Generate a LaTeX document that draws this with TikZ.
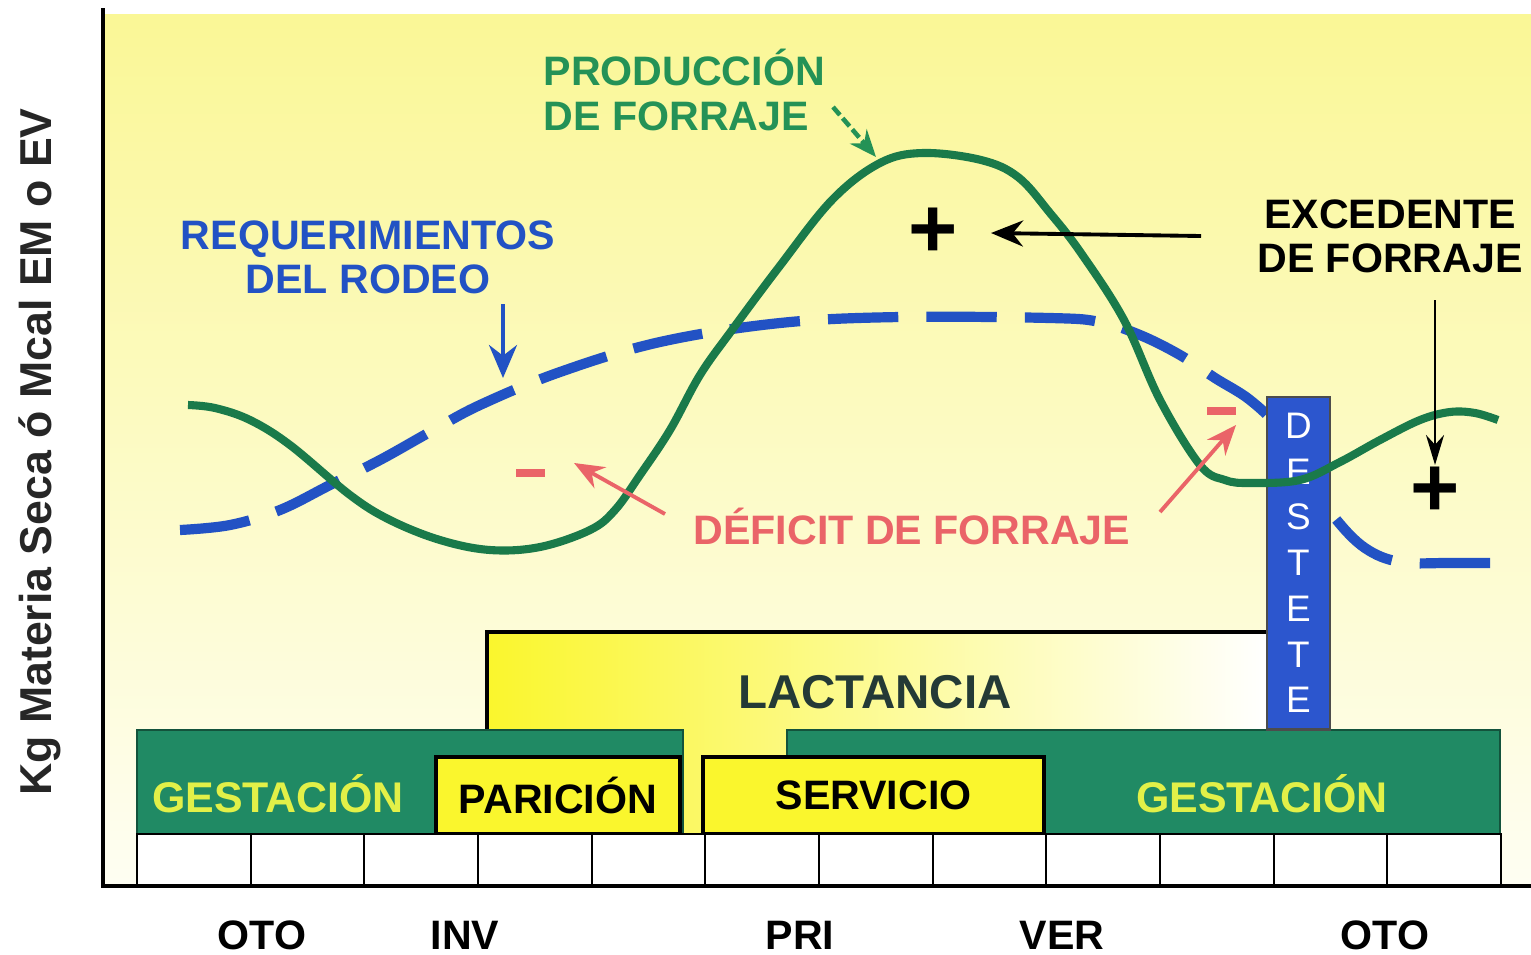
\documentclass[tikz,border=0pt]{standalone}
\usepackage{fontspec}
\setmainfont{Liberation Sans}
\usetikzlibrary{positioning,arrows.meta}

\definecolor{fondo}{RGB}{250,247,150}
\definecolor{verdecurva}{RGB}{26,122,74}
\definecolor{verdebarra}{RGB}{32,138,100}
\definecolor{verdetexto}{RGB}{36,146,86}
\definecolor{azulreq}{RGB}{34,82,196}
\definecolor{azuldestete}{RGB}{44,86,206}
\definecolor{amarillo}{RGB}{250,246,45}
\definecolor{rojodef}{RGB}{234,100,104}
\definecolor{amtexto}{RGB}{226,240,72}
\definecolor{lacttexto}{RGB}{36,58,54}

\begin{document}
\begin{tikzpicture}[x=0.01cm,y=-0.01cm,
    lbl/.style={font=\fontsize{11.7}{12.6}\selectfont\bfseries,inner sep=0pt,align=center},
    bigtxt/.style={font=\fontsize{13.5}{14}\selectfont\bfseries,inner sep=0pt},
    bar/.style={fill=verdebarra,draw=verdebarra!60!black,line width=0.6pt},
    box/.style={draw,line width=1.1pt,fill=amarillo,inner sep=0pt,font=\fontsize{11.7}{12}\selectfont\bfseries},
    cell/.style={draw,line width=0.6pt,fill=white,minimum width=1.136cm,minimum height=0.52cm,inner sep=0pt,outer sep=0pt},
    plus/.style={font=\fontsize{24}{24}\selectfont\bfseries,inner sep=0pt},
    minus/.style={fill=rojodef,minimum width=0.29cm,minimum height=0.08cm,inner sep=0pt},
    arr/.style={-{Stealth[length=0.32cm,width=0.26cm]}}
  ]
\useasboundingbox (0,0) rectangle (1531,954);

% fondo del grafico
\shade[top color=fondo,bottom color=fondo!12] (103,14) rectangle (1531,886);

% lactancia
\shade[left color=amarillo,right color=white] (487,632) rectangle (1268,834);
\draw[line width=1.1pt] (487,730) |- (1268,632);
\node (lact) [bigtxt,text=lacttexto] at (875,692) {LACTANCIA};

% gestacion, paricion, servicio
\draw[bar] (137,730) rectangle (683,834);
\draw[bar] (787,730) rectangle (1500,834);
\node (gestA) [lbl,text=amtexto,font=\fontsize{12.2}{13}\selectfont\bfseries] at (278,794) {GESTACIÓN};
\node (gestB) [lbl,text=amtexto,font=\fontsize{12.2}{13}\selectfont\bfseries] at (1262,794) {GESTACIÓN};
\node (paricion) [box,minimum width=2.44cm,minimum height=0.77cm] at (558,795.5) {PARICIÓN};
\node (servicio) [box,minimum width=3.41cm,minimum height=0.77cm] at (873.5,795.5) {SERVICIO};

% fila de meses
\node (c0) [cell,anchor=west] at (137,860) {};
\foreach \i [count=\j from 1] in {0,...,10}
  \node (c\j) [cell,right=0pt of c\i] {};

% requerimientos del rodeo
\draw[azulreq,line width=2.9pt,dash pattern=on 20pt off 8pt]
  plot[smooth,tension=0.6] coordinates {(180,530) (230,525) (280,510) (330,485) (380,460) (430,432)
  (480,405) (560,372) (660,342) (780,323) (900,317) (1050,318) (1100,322) (1140,335) (1180,355)
  (1215,378) (1250,400) (1280,430) (1310,480) (1335,518) (1365,548) (1400,562) (1450,563) (1513,563)};

% destete
\node (destete) [fill=azuldestete,draw=black!70,line width=0.8pt,minimum width=0.63cm,minimum height=3.32cm,
  text=white,align=center,inner sep=0pt,font=\fontsize{10.5}{13}\selectfont] at (1298.5,563) {D\\E\\S\\T\\E\\T\\E};

% produccion de forraje
\draw[verdecurva,line width=2.3pt]
  plot[smooth,tension=0.6] coordinates {(188,405) (215,408) (250,420) (290,445) (350,495) (390,520)
  (440,540) (490,550) (540,547) (590,530) (615,510) (640,475) (670,430) (700,375) (732,330)
  (779,267) (832,200) (880,163) (923,153) (981,160) (1018,177) (1050,213) (1081,253)
  (1124,320) (1160,400) (1200,465) (1225,480) (1250,483) (1300,480)
  (1340,462) (1380,440) (1420,420) (1450,412) (1475,413) (1498,420)};

% textos
\node (prod) [lbl,text=verdetexto,align=left,anchor=west] at (543,90) {PRODUCCIÓN\\DE FORRAJE};
\node (req) [lbl,text=azulreq] at (368,257) {REQUERIMIENTOS\\DEL RODEO};
\node (exc) [lbl] at (1390,236) {EXCEDENTE\\DE FORRAJE};
\node (def) [lbl,text=rojodef] at (912,526) {DÉFICIT DE FORRAJE};
\node (masA) [plus] at (933,233) {+};
\node (masB) [plus] at (1435,492) {+};
\node (menosA) [minus] at (530,473) {};
\node (menosB) [minus] at (1221,411) {};

% flechas
\coordinate (prodA) at (833,107);
\coordinate (prodB) at (876,157);
\coordinate (reqA) at (503,304);
\coordinate (reqB) at (503,378);
\coordinate (excA) at (1201,236);
\coordinate (excB) at (1435,300);
\coordinate (defA) at (665,514);
\coordinate (defB) at (1160,512);
\draw[arr,verdetexto,line width=1.3pt,dash pattern=on 3pt off 1.2pt,-{Stealth[length=0.27cm,width=0.22cm]}] (prodA) -- (prodB);
\draw[arr,azulreq,line width=1.1pt,-{Stealth[length=0.33cm,width=0.28cm]}] (reqA) -- (reqB);
\draw[arr,line width=1.1pt] (excA) -- ([xshift=0.58cm]masA.center);
\draw[arr,line width=0.7pt,-{Stealth[length=0.3cm,width=0.18cm]}] (excB) -- ([yshift=0.27cm]masB.center);
\draw[arr,rojodef,line width=1.1pt,-{Stealth[length=0.3cm,width=0.24cm]}] (defA) -- ([xshift=0.44cm,yshift=0.1cm]menosA.center);
\draw[arr,rojodef,line width=1.1pt,-{Stealth[length=0.3cm,width=0.24cm]}] (defB) -- ([xshift=0.15cm,yshift=-0.14cm]menosB.center);

% ejes y rotulos
\draw[line width=1.4pt] (103,8) -- (103,886) -- (1531,886);
\node (ylab) [rotate=90,font=\fontsize{12.7}{13}\selectfont\bfseries,text=black!85] at (40,452) {Kg Materia Seca ó Mcal EM o EV};
\node (oto1) [lbl] at (262,935) {OTO};
\node (inv) [lbl] at (465,935) {INV};
\node (pri) [lbl] at (800,935) {PRI};
\node (ver) [lbl] at (1062,935) {VER};
\node (oto2) [lbl] at (1385,935) {OTO};
\end{tikzpicture}
\end{document}
